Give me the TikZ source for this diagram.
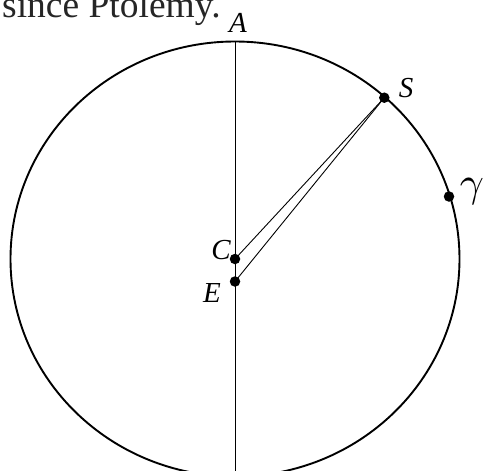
\documentclass[tikz,border=0pt]{standalone}
\usepackage{fontspec}
\setmainfont{Liberation Serif}
\begin{document}
\begin{tikzpicture}[x=1pt,y=-1pt,
  dot/.style={circle,fill=black,inner sep=0pt,minimum size=10.5pt},
  lbl/.style={inner sep=0pt,font=\fontsize{29}{29}\selectfont\itshape},
  thinline/.style={line width=0.9pt},
  rim/.style={line width=1.9pt}]
\useasboundingbox (0,0) rectangle (485,471);
\node[inner sep=0pt,anchor=base west,font=\fontsize{37.5}{38}\selectfont,text=black!85] (cap) at (2,17) {since Ptolemy.};
% circle
\draw[rim] (235,259) ellipse [x radius=224.5, y radius=217.5];
% vertical line
\coordinate (top) at (235,41);
\coordinate (bot) at (235,475);
\draw[thinline] (top) -- (bot);
% points
\coordinate (Cp) at (235,259);
\coordinate (Ep) at (235,281.5);
\coordinate (Sp) at (384.3,97.7);
\draw[thinline] (Cp) -- (Sp);
\draw[thinline] (Ep) -- (Sp);
\node[dot] (C) at (Cp) {};
\node[dot] (E) at (Ep) {};
\node[dot] (S) at (Sp) {};
\node[dot] (G) at (449,196.5) {};
% labels
\node[lbl,anchor=base] (lA) at (238,32) {A};
\node[lbl,anchor=base] (lS) at (406,97) {S};
\node[lbl,anchor=base] (lC) at (221,259) {C};
\node[lbl,anchor=base] (lE) at (212,302) {E};
\node[inner sep=0pt,anchor=base west,scale=4.2] (lG) at (459,196) {$\gamma$};
\end{tikzpicture}
\end{document}
